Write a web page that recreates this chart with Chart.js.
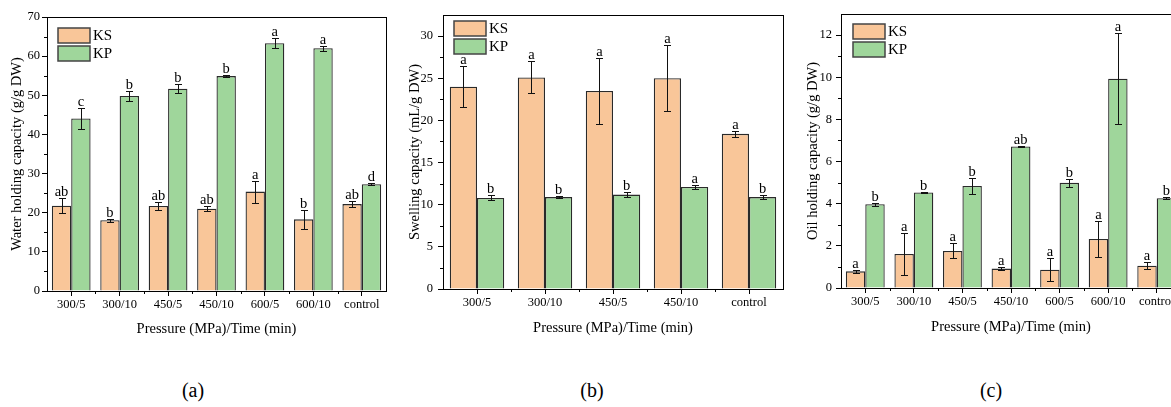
<!DOCTYPE html>
<html>
<head>
<meta charset="utf-8">
<script src="https://cdn.jsdelivr.net/npm/chart.js@4.4.1/dist/chart.umd.min.js"></script>
<style>
  html, body { margin: 0; padding: 0; background: #fff; width: 1171px; height: 407px; overflow: hidden; position: relative; }
  canvas { position: absolute; top: 0; }
  .tag { position: absolute; top: 379px; font: 20px 'Liberation Serif', serif; transform: translateX(-50%); }
</style>
</head>
<body>
<canvas id="chartA" width="400" height="340" style="left:0px"></canvas>
<canvas id="chartB" width="400" height="340" style="left:390px"></canvas>
<canvas id="chartC" width="415" height="340" style="left:780px"></canvas>
<div class="tag" style="left:193px">(a)</div>
<div class="tag" style="left:592px">(b)</div>
<div class="tag" style="left:991px">(c)</div>
<script>
// (a) water holding capacity
const catsA = ['300/5', '300/10', '450/5', '450/10', '600/5', '600/10', 'control'];
const whcKS = [21.8, 18.1, 21.7, 21.0, 25.4, 18.3, 22.2];
const whcKSsd = [2.0, 0.4, 1.1, 0.6, 2.8, 2.5, 0.8];
const whcKP = [44.1, 49.8, 51.7, 54.9, 63.3, 62.0, 27.3];
const whcKPsd = [2.6, 1.3, 1.2, 0.2, 1.3, 0.7, 0.2];
const whcKSlet = ['ab', 'b', 'ab', 'ab', 'a', 'b', 'ab'];
const whcKPlet = ['c', 'b', 'b', 'b', 'a', 'a', 'd'];

// (b) swelling capacity
const catsB = ['300/5', '300/10', '450/5', '450/10', 'control'];
const scKS = [24.0, 25.1, 23.5, 25.0, 18.4];
const scKSsd = [2.4, 1.9, 3.9, 3.9, 0.4];
const scKP = [10.8, 10.9, 11.2, 12.1, 10.9];
const scKPsd = [0.3, 0.1, 0.3, 0.2, 0.2];
const scKSlet = ['a', 'a', 'a', 'a', 'a'];
const scKPlet = ['b', 'b', 'b', 'a', 'b'];

// (c) oil holding capacity
const catsC = ['300/5', '300/10', '450/5', '450/10', '600/5', '600/10', 'control'];
const ohcKS = [0.79, 1.61, 1.76, 0.92, 0.87, 2.33, 1.06];
const ohcKSsd = [0.08, 1.0, 0.36, 0.06, 0.56, 0.87, 0.17];
const ohcKP = [3.97, 4.53, 4.84, 6.71, 4.99, 9.93, 4.26];
const ohcKPsd = [0.06, 0.03, 0.38, 0.03, 0.19, 2.15, 0.06];
const ohcKSlet = ['a', 'a', 'a', 'a', 'a', 'a', 'a'];
const ohcKPlet = ['b', 'b', 'b', 'ab', 'b', 'a', 'b'];

const KS_COLOR = '#F9C699';
const KP_COLOR = '#9FD69B';
const SERIF = "'Liberation Serif', 'Times New Roman', serif";

Chart.defaults.font.family = SERIF;
Chart.defaults.color = '#000';

// error bars, letters, frame, minor ticks and the legend box
const decor = {
    id: 'decor',
    afterDatasetsDraw(chart, args, opts) {
        const ctx = chart.ctx;
        const area = chart.chartArea;
        const ys = chart.scales.y;
        ctx.save();
        ctx.strokeStyle = '#111';
        ctx.fillStyle = '#000';
        ctx.lineWidth = 1;

        chart.data.datasets.forEach((ds, i) => {
            chart.getDatasetMeta(i).data.forEach((bar, j) => {
                const hi = Math.round(ys.getPixelForValue(ds.data[j] + opts.errors[i][j])) + 0.5;
                const lo = Math.round(ys.getPixelForValue(ds.data[j] - opts.errors[i][j])) + 0.5;
                const cx = Math.round(bar.x) + 0.5;
                ctx.beginPath();
                ctx.moveTo(cx, lo); ctx.lineTo(cx, hi);
                ctx.moveTo(cx - 3.5, hi); ctx.lineTo(cx + 3.5, hi);
                ctx.moveTo(cx - 3.5, lo); ctx.lineTo(cx + 3.5, lo);
                ctx.stroke();
                ctx.font = '14.5px ' + SERIF;
                ctx.textAlign = 'center';
                ctx.textBaseline = 'alphabetic';
                ctx.fillText(opts.letters[i][j], bar.x, hi - 3);
            });
        });

        // frame
        ctx.strokeStyle = '#000';
        ctx.strokeRect(Math.round(area.left) + 0.5, Math.round(area.top) + 0.5,
            Math.round(area.right - area.left), Math.round(area.bottom - area.top));

        // minor ticks
        ctx.beginPath();
        const step = opts.step;
        for (let v = step / 2; v < ys.max; v += step) {
            const py = Math.round(ys.getPixelForValue(v)) + 0.5;
            ctx.moveTo(area.left, py); ctx.lineTo(area.left - 3, py);
        }
        const n = chart.data.labels.length;
        for (let k = 1; k < n; k++) {
            const px = Math.round(area.left + k * (area.right - area.left) / n) + 0.5;
            ctx.moveTo(px, area.bottom); ctx.lineTo(px, area.bottom + 3);
        }
        ctx.stroke();

        // legend
        const lx = area.left + opts.legend[0], ly = area.top + opts.legend[1];
        chart.data.datasets.forEach((ds, i) => {
            const by = ly + i * 18;
            ctx.fillStyle = ds.backgroundColor;
            ctx.fillRect(lx, by, 32, 15);
            ctx.strokeStyle = '#444';
            ctx.lineWidth = 1.5;
            ctx.strokeRect(lx, by, 32, 15);
            ctx.fillStyle = '#000';
            ctx.font = '15px ' + SERIF;
            ctx.textAlign = 'left';
            ctx.textBaseline = 'middle';
            ctx.fillText(ds.label, lx + 35, by + 8);
        });
        ctx.restore();
    },
};

function makeChart(id, cfg) {
    return new Chart(document.getElementById(id), {
        type: 'bar',
        data: {
            labels: cfg.labels,
            datasets: [
                { label: 'KS', data: cfg.ks, backgroundColor: KS_COLOR, borderColor: '#2a2a2a', borderWidth: 1.3 },
                { label: 'KP', data: cfg.kp, backgroundColor: KP_COLOR, borderColor: '#2a2a2a', borderWidth: 1.3 },
            ],
        },
        options: {
            responsive: false,
            animation: false,
            devicePixelRatio: 1,
            categoryPercentage: 0.8,
            barPercentage: 1.0,
            layout: { padding: cfg.padding },
            plugins: {
                legend: { display: false },
                tooltip: { enabled: false },
                decor: { errors: cfg.errors, letters: cfg.letters, step: cfg.step, legend: cfg.legend },
            },
            scales: {
                x: {
                    grid: { drawOnChartArea: false, offset: false, tickLength: 5, tickColor: '#000' },
                    border: { display: false },
                    ticks: { font: { size: 12.5 }, padding: 1, maxRotation: 0, autoSkip: false },
                    title: { display: true, text: 'Pressure (MPa)/Time (min)', font: { size: 14.5 }, padding: { top: 0, bottom: cfg.xTitlePad } },
                    afterFit: (s) => { s.height = cfg.xHeight; },
                },
                y: {
                    min: 0,
                    max: cfg.max,
                    grid: { drawOnChartArea: false, tickLength: 5, tickColor: '#000' },
                    border: { display: false },
                    ticks: { stepSize: cfg.step, font: { size: 12.5 }, padding: cfg.tickPad },
                    afterBuildTicks: (s) => { s.ticks = s.ticks.filter(t => Math.abs(t.value / cfg.step - Math.round(t.value / cfg.step)) < 1e-6); },
                    title: { display: true, text: cfg.yTitle, font: { size: 14.5 }, padding: { top: 8, bottom: 0 } },
                    afterFit: (s) => { s.width = cfg.yWidth; },
                },
            },
        },
        plugins: [decor],
    });
}

makeChart('chartA', {
    labels: catsA, ks: whcKS, kp: whcKP,
    errors: [whcKSsd, whcKPsd], letters: [whcKSlet, whcKPlet],
    max: 70, step: 10, yTitle: 'Water holding capacity (g/g DW)',
    padding: { left: 0, top: 17, right: 14, bottom: 0 },
    yWidth: 47, xHeight: 49, tickPad: 2, xTitlePad: 2, legend: [11, 11],
});

makeChart('chartB', {
    labels: catsB, ks: scKS, kp: scKP,
    errors: [scKSsd, scKPsd], letters: [scKSlet, scKPlet],
    max: 32.5, step: 5, yTitle: 'Swelling capacity (mL/g DW)',
    padding: { left: 8, top: 15, right: 7, bottom: 0 },
    yWidth: 45, xHeight: 51, tickPad: 5, xTitlePad: 3.5, legend: [11, 6],
});

makeChart('chartC', {
    labels: catsC, ks: ohcKS, kp: ohcKP,
    errors: [ohcKSsd, ohcKPsd], letters: [ohcKSlet, ohcKPlet],
    max: 13, step: 2, yTitle: 'Oil holding capacity (g/g DW)',
    padding: { left: 16, top: 14, right: 14, bottom: 0 },
    yWidth: 45, xHeight: 52, tickPad: 4, xTitlePad: 4.5, legend: [12, 10],
});
</script>
</body>
</html>
